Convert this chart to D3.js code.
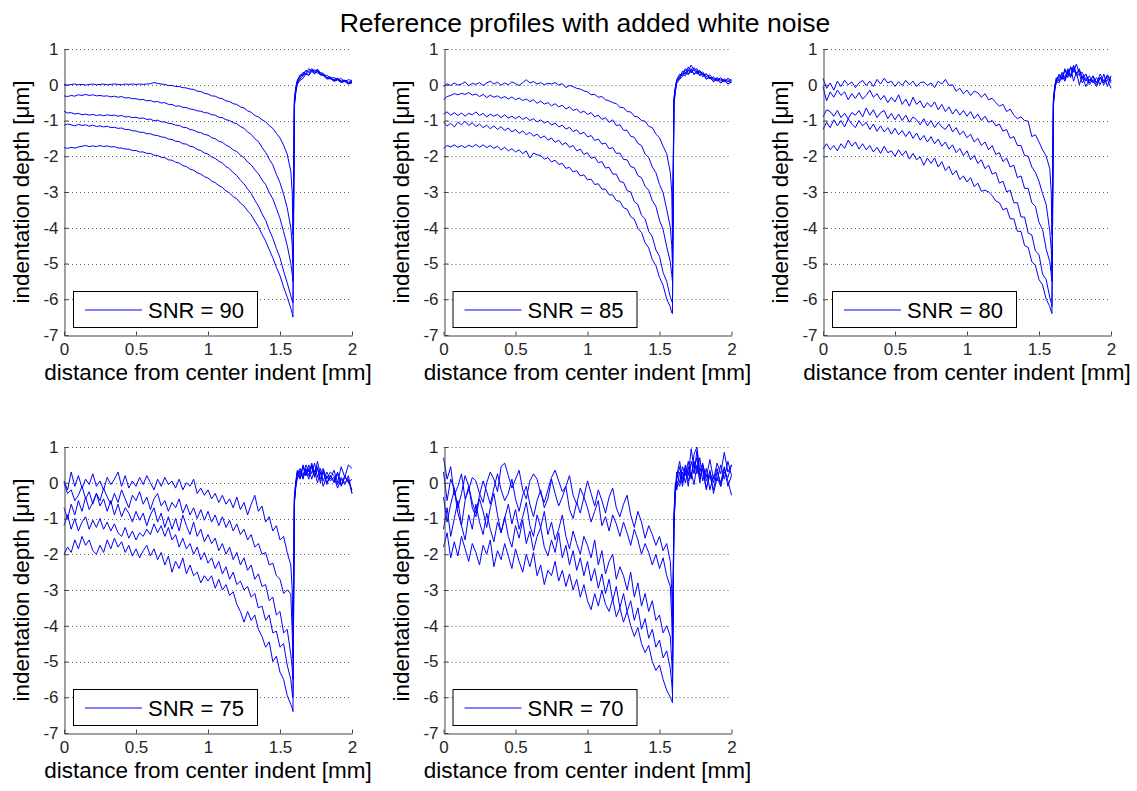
<!DOCTYPE html>
<html><head><meta charset="utf-8">
<script src="https://cdn.jsdelivr.net/npm/d3@7"></script>
<style>body{margin:0;background:#fff}svg{display:block}</style>
</head><body>
<svg id="c" width="1137" height="791"></svg>
<script>
// ---------------- DATA ----------------
const titleText = "Reference profiles with added white noise";
const xLabelText = "distance from center indent [mm]";
const yLabelText = "indentation depth [μm]";
const legendLabels = ["SNR = 90", "SNR = 85", "SNR = 80", "SNR = 75", "SNR = 70"];
const xTicks = [0, 0.5, 1, 1.5, 2];
const yTicks = [-7, -6, -5, -4, -3, -2, -1, 0, 1];
const gridValues = [1, 0, -1, -2, -3, -4, -5, -6];

// sample positions (mm), shared by every profile
const xGrid = [
0,0.025,0.05,0.075,0.1,0.125,0.15,0.175,0.2,0.225,
0.25,0.275,0.3,0.325,0.35,0.375,0.4,0.425,0.45,0.475,
0.5,0.525,0.55,0.575,0.6,0.625,0.65,0.675,0.7,0.725,
0.75,0.775,0.8,0.825,0.85,0.875,0.9,0.925,0.95,0.975,
1,1.025,1.05,1.075,1.1,1.125,1.15,1.175,1.2,1.225,
1.25,1.275,1.3,1.325,1.35,1.375,1.4,1.425,1.45,1.475,
1.5,1.525,1.55,1.575,1.585,1.59,1.6,1.61,1.62,1.64,
1.66,1.68,1.7,1.72,1.74,1.76,1.78,1.8,1.825,1.85,
1.875,1.9,1.925,1.95,1.975,2];

// SNR = 90 : five profiles (depth in µm)
const snr90 = [
[0.01,-0.01,0.01,0.02,0,0.01,-0.01,0.01,0.02,0,
 0.01,0.02,0,0.01,0.02,0.01,0,0.02,0.01,0.02,
 0.01,0.02,0.01,0.02,0.03,0.06,0.04,0.02,0.01,-0.02,
 -0.02,-0.05,-0.05,-0.08,-0.09,-0.12,-0.13,-0.18,-0.19,-0.24,
 -0.26,-0.31,-0.32,-0.37,-0.39,-0.45,-0.47,-0.53,-0.55,-0.62,
 -0.65,-0.73,-0.77,-0.86,-0.9,-0.98,-1.04,-1.14,-1.22,-1.36,
 -1.49,-1.69,-1.94,-2.42,-3.0,-4.2,-0.55,-0.15,0.06,0.22,
 0.3,0.4,0.36,0.45,0.38,0.42,0.3,0.28,0.2,0.17,
 0.14,0.18,0.1,0.12,0.05,0.08],
[-0.31,-0.33,-0.3,-0.32,-0.28,-0.3,-0.27,-0.3,-0.28,-0.31,
 -0.3,-0.32,-0.31,-0.34,-0.32,-0.35,-0.33,-0.37,-0.36,-0.39,
 -0.39,-0.42,-0.41,-0.45,-0.44,-0.48,-0.47,-0.51,-0.5,-0.55,
 -0.55,-0.6,-0.59,-0.63,-0.64,-0.68,-0.69,-0.73,-0.74,-0.78,
 -0.79,-0.84,-0.85,-0.91,-0.92,-0.98,-1.0,-1.06,-1.09,-1.17,
 -1.22,-1.32,-1.39,-1.51,-1.59,-1.75,-1.89,-2.08,-2.24,-2.51,
 -2.74,-3.06,-3.44,-4.0,-4.5,-5.0,-0.45,-0.1,0.1,0.25,
 0.35,0.3,0.45,0.38,0.42,0.32,0.35,0.25,0.27,0.18,
 0.2,0.15,0.17,0.1,0.14,0.12],
[-0.74,-0.79,-0.78,-0.82,-0.8,-0.84,-0.82,-0.85,-0.83,-0.86,
 -0.84,-0.87,-0.84,-0.86,-0.85,-0.88,-0.86,-0.9,-0.89,-0.92,
 -0.91,-0.94,-0.93,-0.97,-0.96,-1.01,-0.99,-1.04,-1.04,-1.08,
 -1.09,-1.13,-1.14,-1.19,-1.2,-1.25,-1.27,-1.32,-1.34,-1.39,
 -1.41,-1.48,-1.51,-1.58,-1.61,-1.69,-1.74,-1.82,-1.87,-1.97,
 -2.04,-2.16,-2.24,-2.38,-2.49,-2.66,-2.79,-3.01,-3.19,-3.46,
 -3.74,-4.11,-4.49,-5.0,-5.3,-5.5,-0.4,-0.05,0.12,0.28,
 0.25,0.4,0.33,0.42,0.3,0.38,0.27,0.3,0.18,0.2,
 0.1,0.15,0.08,0.11,0.04,0.07],
[-1.13,-1.1,-1.12,-1.15,-1.11,-1.14,-1.12,-1.16,-1.13,-1.17,
 -1.15,-1.18,-1.16,-1.2,-1.19,-1.22,-1.21,-1.25,-1.25,-1.29,
 -1.29,-1.33,-1.33,-1.37,-1.37,-1.41,-1.42,-1.46,-1.47,-1.52,
 -1.53,-1.58,-1.59,-1.65,-1.66,-1.72,-1.74,-1.81,-1.84,-1.91,
 -1.94,-2.02,-2.06,-2.14,-2.19,-2.29,-2.35,-2.46,-2.54,-2.67,
 -2.77,-2.92,-3.04,-3.23,-3.39,-3.61,-3.79,-4.06,-4.29,-4.58,
 -4.84,-5.21,-5.54,-5.9,-6.05,-6.1,-0.5,-0.18,0.05,0.16,
 0.26,0.32,0.28,0.4,0.35,0.44,0.34,0.32,0.2,0.22,
 0.12,0.16,0.1,0.13,0.07,0.1],
[-1.76,-1.78,-1.75,-1.77,-1.74,-1.72,-1.7,-1.73,-1.71,-1.73,
 -1.7,-1.73,-1.71,-1.74,-1.73,-1.77,-1.77,-1.8,-1.8,-1.84,
 -1.84,-1.88,-1.88,-1.92,-1.92,-1.97,-1.98,-2.03,-2.04,-2.1,
 -2.11,-2.17,-2.19,-2.26,-2.29,-2.36,-2.39,-2.46,-2.5,-2.57,
 -2.61,-2.69,-2.74,-2.82,-2.87,-2.97,-3.03,-3.13,-3.19,-3.31,
 -3.39,-3.53,-3.64,-3.81,-3.97,-4.18,-4.37,-4.61,-4.84,-5.11,
 -5.34,-5.66,-5.94,-6.25,-6.4,-6.5,-0.6,-0.22,0.02,0.12,
 0.18,0.3,0.26,0.37,0.32,0.38,0.28,0.26,0.16,0.17,
 0.1,0.13,0.06,0.09,0.02,0.05]
];

// SNR = 85
const snr85 = [
[-0.05,0.03,-0.02,0.05,-0.01,0.02,0.08,-0.03,0.04,0.01,
 0.06,-0.02,0.05,0.1,0.02,0.07,-0.01,0.05,0.0,0.08,
 0.03,-0.02,0.06,0.14,0.05,0.09,0.02,0.06,0.0,0.04,
 0.02,0.06,-0.01,0.03,-0.08,-0.02,-0.05,-0.1,-0.12,-0.17,
 -0.2,-0.28,-0.27,-0.35,-0.33,-0.42,-0.45,-0.5,-0.53,-0.63,
 -0.64,-0.75,-0.76,-0.88,-0.9,-1.0,-1.02,-1.16,-1.2,-1.38,
 -1.48,-1.72,-1.93,-2.45,-3.0,-4.2,-0.5,-0.12,0.1,0.25,
 0.32,0.45,0.38,0.55,0.4,0.45,0.32,0.36,0.22,0.28,
 0.14,0.2,0.12,0.16,0.08,0.15],
[-0.42,-0.33,-0.3,-0.25,-0.28,-0.24,-0.27,-0.22,-0.29,-0.26,
 -0.33,-0.27,-0.36,-0.29,-0.35,-0.31,-0.38,-0.33,-0.4,-0.34,
 -0.42,-0.37,-0.44,-0.4,-0.47,-0.42,-0.52,-0.46,-0.54,-0.5,
 -0.59,-0.53,-0.62,-0.57,-0.68,-0.62,-0.72,-0.68,-0.78,-0.74,
 -0.83,-0.78,-0.9,-0.85,-0.97,-0.92,-1.05,-0.98,-1.14,-1.12,
 -1.27,-1.28,-1.44,-1.47,-1.64,-1.7,-1.94,-2.03,-2.3,-2.46,
 -2.79,-3.02,-3.48,-3.98,-4.5,-5.0,-0.45,-0.1,0.12,0.2,
 0.38,0.3,0.5,0.35,0.42,0.3,0.38,0.22,0.3,0.16,
 0.22,0.12,0.2,0.1,0.18,0.12],
[-0.82,-0.76,-0.85,-0.78,-0.86,-0.79,-0.88,-0.8,-0.84,-0.76,
 -0.86,-0.8,-0.9,-0.82,-0.88,-0.83,-0.92,-0.84,-0.93,-0.88,
 -0.95,-0.88,-0.97,-0.91,-1.0,-0.95,-1.04,-0.98,-1.07,-1.02,
 -1.13,-1.07,-1.18,-1.13,-1.24,-1.19,-1.31,-1.26,-1.38,-1.33,
 -1.46,-1.42,-1.56,-1.52,-1.66,-1.63,-1.79,-1.76,-1.92,-1.91,
 -2.09,-2.1,-2.29,-2.32,-2.54,-2.6,-2.84,-2.95,-3.24,-3.4,
 -3.79,-4.05,-4.53,-4.96,-5.3,-5.5,-0.38,-0.05,0.15,0.3,
 0.26,0.42,0.3,0.45,0.28,0.4,0.25,0.33,0.15,0.22,
 0.08,0.18,0.06,0.14,0.02,0.1],
[-1.05,-1.15,-1.08,-1.18,-1.05,-1.12,-1.02,-1.14,-1.06,-1.17,
 -1.1,-1.2,-1.13,-1.23,-1.15,-1.25,-1.17,-1.28,-1.21,-1.32,
 -1.25,-1.36,-1.29,-1.4,-1.33,-1.44,-1.38,-1.49,-1.43,-1.55,
 -1.49,-1.61,-1.55,-1.68,-1.62,-1.75,-1.7,-1.85,-1.8,-1.95,
 -1.9,-2.06,-2.02,-2.18,-2.15,-2.33,-2.31,-2.5,-2.5,-2.71,
 -2.73,-2.96,-3.0,-3.27,-3.35,-3.65,-3.75,-4.1,-4.25,-4.62,
 -4.8,-5.25,-5.5,-5.94,-6.05,-6.1,-0.52,-0.15,0.08,0.18,
 0.3,0.25,0.42,0.33,0.48,0.36,0.4,0.28,0.3,0.2,
 0.18,0.1,0.16,0.08,0.14,0.06],
[-1.78,-1.7,-1.74,-1.68,-1.75,-1.7,-1.76,-1.69,-1.74,-1.67,
 -1.75,-1.68,-1.76,-1.7,-1.78,-1.72,-1.82,-1.75,-1.85,-1.79,
 -1.88,-1.82,-1.93,-1.85,-2.05,-1.91,-1.96,-1.98,-2.08,-2.04,
 -2.16,-2.11,-2.23,-2.2,-2.34,-2.31,-2.44,-2.4,-2.55,-2.52,
 -2.66,-2.64,-2.79,-2.77,-2.92,-2.92,-3.08,-3.08,-3.24,-3.26,
 -3.44,-3.48,-3.69,-3.76,-4.02,-4.13,-4.42,-4.56,-4.89,-5.06,
 -5.39,-5.61,-5.99,-6.21,-6.38,-6.4,-0.6,-0.2,0.05,0.15,
 0.24,0.35,0.28,0.4,0.3,0.36,0.26,0.3,0.18,0.2,
 0.1,0.15,0.05,0.12,0.02,0.08]
];

// SNR = 80
const snr80 = [
[0.18,-0.1,0.05,-0.15,0.1,-0.05,0.12,0.0,0.08,-0.08,
 0.05,0.12,-0.02,0.1,-0.05,0.15,0.02,0.18,0.05,0.1,
 -0.05,0.08,-0.02,0.12,0.0,0.1,-0.05,0.06,0.08,-0.02,
 0.05,-0.08,0.1,0.02,0.15,-0.02,0.0,-0.18,-0.1,-0.25,
 -0.15,-0.3,-0.18,-0.22,-0.35,-0.25,-0.42,-0.38,-0.5,-0.6,
 -0.55,-0.75,-0.68,-0.85,-0.95,-0.9,-1.0,-1.02,-1.45,-1.4,
 -1.6,-1.82,-2.0,-2.35,-3.0,-4.2,-0.5,-0.1,0.15,0.25,
 0.15,0.4,0.28,0.5,0.35,0.58,0.3,0.35,0.1,0.25,
 0.05,0.2,0.0,0.3,-0.05,0.25],
[-0.05,-0.45,-0.2,-0.35,-0.15,-0.3,-0.2,-0.42,-0.25,-0.38,
 -0.22,-0.4,-0.3,-0.15,-0.35,-0.25,-0.42,-0.3,-0.5,-0.35,
 -0.48,-0.28,-0.55,-0.4,-0.6,-0.35,-0.55,-0.45,-0.65,-0.5,
 -0.62,-0.48,-0.7,-0.55,-0.75,-0.62,-0.82,-0.68,-0.85,-0.72,
 -0.88,-0.75,-0.95,-0.82,-1.0,-0.88,-1.05,-1.0,-1.15,-1.1,
 -1.3,-1.25,-1.5,-1.45,-1.7,-1.7,-1.98,-2.0,-2.3,-2.45,
 -2.7,-3.05,-3.35,-4.1,-4.6,-5.2,-0.45,-0.05,0.2,0.1,
 0.35,0.2,0.45,0.25,0.5,0.3,0.4,0.15,0.3,0.05,
 0.25,0.05,0.2,0.1,0.28,0.12],
[-0.9,-0.7,-0.75,-0.88,-0.72,-0.92,-0.8,-0.95,-0.78,-0.85,
 -0.72,-0.9,-0.65,-0.85,-0.7,-0.92,-0.78,-0.72,-0.95,-0.8,
 -0.98,-0.82,-1.0,-0.85,-1.05,-0.9,-0.98,-1.12,-0.95,-1.15,
 -1.0,-1.2,-1.05,-1.18,-1.25,-1.1,-1.32,-1.2,-1.4,-1.3,
 -1.48,-1.38,-1.6,-1.5,-1.7,-1.6,-1.82,-1.7,-1.95,-1.9,
 -2.15,-2.05,-2.3,-2.25,-2.6,-2.55,-2.9,-2.9,-3.3,-3.4,
 -3.85,-4.05,-4.6,-4.95,-5.3,-5.5,-0.4,0.0,0.1,0.3,
 0.15,0.45,0.2,0.5,0.1,0.35,0.0,0.25,-0.05,0.15,
 0.1,-0.05,0.2,0.0,0.15,-0.1],
[-1.25,-1.05,-1.2,-0.98,-1.15,-1.0,-1.18,-0.95,-1.1,-1.2,
 -1.0,-1.15,-1.05,-1.25,-1.1,-1.3,-1.15,-1.32,-1.2,-1.38,
 -1.22,-1.4,-1.28,-1.45,-1.3,-1.5,-1.35,-1.55,-1.42,-1.6,
 -1.45,-1.65,-1.52,-1.72,-1.6,-1.8,-1.68,-1.9,-1.78,-1.98,
 -1.85,-2.1,-1.98,-2.2,-2.1,-2.35,-2.25,-2.5,-2.45,-2.75,
 -2.7,-3.0,-2.95,-3.3,-3.3,-3.7,-3.7,-4.15,-4.2,-4.65,
 -4.75,-5.3,-5.45,-5.95,-6.1,-6.2,-0.5,-0.1,0.05,0.2,
 0.3,0.15,0.4,0.25,0.55,0.3,0.45,0.2,0.3,0.1,
 0.22,0.05,0.3,0.1,0.2,0.05],
[-1.8,-1.65,-1.82,-1.7,-1.85,-1.65,-1.78,-1.55,-1.72,-1.6,
 -1.8,-1.65,-1.82,-1.7,-1.88,-1.75,-1.92,-1.72,-1.9,-1.85,
 -2.0,-1.82,-1.98,-1.85,-2.08,-1.92,-2.1,-2.02,-2.25,-2.05,
 -2.2,-2.05,-2.3,-2.15,-2.4,-2.28,-2.52,-2.4,-2.65,-2.55,
 -2.72,-2.6,-2.85,-2.75,-2.98,-2.95,-3.0,-3.1,-3.25,-3.3,
 -3.5,-3.45,-3.75,-3.75,-4.1,-4.1,-4.5,-4.55,-4.95,-5.05,
 -5.45,-5.6,-6.0,-6.2,-6.35,-6.4,-0.6,-0.15,0.1,0.05,
 0.25,0.1,0.35,0.2,0.45,0.25,0.3,0.05,0.2,0.0,
 0.15,0.0,0.2,0.05,0.25,0.1]
];

// SNR = 75
const snr75 = [
[0.05,-0.2,0.3,-0.1,0.2,-0.15,0.1,-0.05,0.25,-0.1,
 0.05,-0.2,0.15,-0.05,0.1,0.3,-0.1,0.2,-0.15,0.05,
 -0.1,0.15,-0.05,0.2,0.0,-0.2,0.1,-0.1,0.15,-0.05,
 0.05,-0.15,0.1,-0.2,0.0,-0.1,0.1,-0.3,-0.15,-0.35,
 -0.2,-0.45,-0.3,-0.55,-0.35,-0.6,-0.45,-0.7,-0.4,-0.75,
 -0.55,-0.9,-0.6,-0.35,-0.8,-0.65,-1.1,-0.95,-1.35,-1.2,
 -1.6,-1.5,-1.95,-2.3,-3.0,-4.2,-0.4,0.0,0.3,0.1,
 0.45,0.2,0.5,0.25,0.55,0.15,0.4,0.05,0.3,0.1,
 0.35,0.0,0.45,0.15,0.5,0.4],
[0.0,-0.3,-0.2,-0.5,-0.35,-0.1,-0.45,-0.25,-0.6,-0.3,
 -0.5,-0.15,-0.4,-0.6,-0.3,-0.55,-0.2,-0.45,-0.7,-0.35,
 -0.5,-0.25,-0.6,-0.4,-0.75,-0.45,-0.3,-0.65,-0.5,-0.8,
 -0.55,-0.7,-0.45,-0.85,-0.6,-0.9,-0.7,-1.0,-0.75,-1.05,
 -0.8,-1.1,-0.9,-1.2,-0.95,-1.25,-1.05,-1.35,-1.15,-1.45,
 -1.3,-1.6,-1.45,-1.8,-1.7,-2.0,-1.95,-2.3,-2.25,-2.6,
 -2.7,-3.1,-3.0,-3.1,-4.2,-4.9,-0.5,-0.1,0.2,0.35,
 0.1,0.4,0.2,0.55,0.3,0.45,0.0,0.35,-0.05,0.2,
 0.0,0.25,-0.1,0.15,0.05,-0.2],
[-0.7,-1.0,-0.6,-0.9,-0.5,-0.8,-0.4,-0.75,-0.55,-0.3,
 -0.65,-0.45,-0.8,-0.5,-0.9,-0.6,-0.95,-0.7,-0.85,-1.1,
 -0.8,-1.05,-0.85,-1.2,-0.9,-0.7,-1.1,-0.85,-1.25,-0.95,
 -1.3,-1.0,-1.35,-0.9,-1.2,-1.45,-1.1,-1.5,-1.3,-1.65,
 -1.45,-1.7,-1.55,-1.9,-1.7,-2.0,-1.8,-2.15,-1.95,-2.3,
 -2.1,-2.45,-2.3,-2.7,-2.55,-2.9,-2.85,-3.3,-3.2,-3.7,
 -3.6,-4.2,-4.1,-4.8,-5.2,-5.5,-0.35,0.05,0.35,0.15,
 0.5,0.2,0.4,0.1,0.35,0.0,0.3,-0.1,0.2,0.05,
 0.15,-0.15,0.1,-0.05,0.2,-0.3],
[-1.2,-0.9,-1.3,-1.0,-1.35,-1.1,-0.95,-1.3,-1.05,-1.25,
 -1.0,-1.3,-1.1,-1.35,-1.15,-1.4,-1.5,-1.25,-1.55,-1.35,
 -1.6,-1.4,-1.5,-1.3,-1.45,-1.15,-1.4,-1.2,-1.5,-1.25,
 -1.6,-1.45,-1.8,-1.55,-1.85,-1.7,-2.0,-1.8,-2.15,-1.95,
 -2.25,-2.1,-2.4,-2.2,-2.55,-2.35,-2.7,-2.5,-2.85,-2.75,
 -3.0,-2.9,-3.2,-3.1,-3.5,-3.45,-3.85,-3.7,-4.2,-4.15,
 -4.6,-4.5,-5.1,-5.5,-5.9,-6.0,-0.5,-0.05,0.25,0.4,
 0.2,0.5,0.3,0.45,0.15,0.4,0.1,0.3,0.0,0.2,
 0.05,0.3,-0.05,0.2,0.0,0.1],
[-2.0,-1.8,-1.95,-1.6,-1.85,-1.5,-1.75,-1.6,-1.9,-2.0,
 -1.75,-1.95,-1.6,-1.85,-1.55,-1.8,-1.65,-1.95,-1.75,-2.05,
 -1.85,-2.1,-1.9,-1.75,-2.05,-1.85,-2.15,-1.95,-2.3,-2.05,
 -2.5,-2.2,-2.4,-2.1,-2.55,-2.3,-2.6,-2.5,-2.8,-2.6,
 -2.75,-2.6,-2.95,-2.7,-3.0,-2.85,-3.15,-3.05,-3.4,-3.6,
 -3.9,-3.6,-3.85,-3.7,-4.1,-4.3,-4.6,-4.45,-5.0,-4.85,
 -5.3,-5.5,-5.95,-6.2,-6.3,-6.4,-0.6,-0.1,0.1,0.3,
 0.15,0.35,0.1,0.5,0.2,0.6,0.25,0.4,0.1,0.3,
 0.2,-0.05,0.15,0.0,0.1,-0.3]
];

// SNR = 70
const snr70 = [
[0.7,0.1,0.45,-0.35,-0.1,0.25,-0.45,-0.2,0.15,0.05,
 -0.3,-0.55,0.0,0.3,0.1,-0.25,0.45,0.55,0.2,-0.15,
 0.1,0.35,-0.2,-0.45,0.05,0.25,0.1,-0.3,-0.55,-0.2,
 0.15,0.35,0.05,-0.25,-0.1,0.2,-0.35,-0.6,-0.15,-0.4,
 0.05,-0.3,-0.65,-0.2,-0.5,-0.85,-0.4,-0.15,-0.7,-0.95,
 -0.6,-0.35,-0.9,-1.25,-0.8,-1.1,-1.55,-1.2,-1.45,-1.75,
 -1.5,-1.9,-1.7,-2.2,-3.0,-4.0,-1.2,-0.3,0.2,0.6,
 0.1,0.5,0.2,0.95,0.4,0.7,0.0,0.5,0.15,0.65,
 0.1,0.55,0.25,0.85,0.3,0.5],
[0.3,-0.5,0.1,-0.15,-0.7,-0.3,0.2,-0.1,-0.55,-0.85,
 -0.35,0.05,-0.25,-0.6,-0.15,0.25,-0.2,-0.5,-0.3,0.1,
 -0.45,-0.8,-0.35,-0.1,-0.6,-0.95,-0.5,-0.2,-0.7,-0.45,
 0.1,-0.3,-0.65,-0.4,-0.1,-0.75,-1.0,-0.55,-0.85,-0.4,
 -0.7,-1.1,-0.8,-0.5,-1.2,-0.95,-1.35,-0.9,-1.15,-1.5,
 -1.1,-1.4,-1.75,-1.3,-1.6,-2.0,-1.7,-1.95,-2.3,-2.0,
 -2.4,-2.1,-2.6,-2.9,-3.8,-4.6,-1.0,-0.15,0.3,0.0,
 0.45,0.2,0.6,0.1,0.8,1.0,0.3,0.55,0.05,0.3,
 0.0,0.4,-0.1,0.3,0.15,0.5],
[-0.4,-1.1,-0.6,-0.2,-0.85,-1.2,-0.5,-0.1,-0.7,-0.95,
 -0.45,-0.8,-1.25,-0.7,-0.3,-0.9,-1.4,-1.0,-0.6,-1.15,
 -0.75,-1.3,-0.95,-0.55,-1.2,-1.5,-0.9,-1.25,-0.8,-1.45,
 -1.1,-1.6,-1.3,-0.9,-1.5,-1.85,-1.35,-1.7,-2.0,-1.5,
 -1.75,-2.1,-1.6,-2.3,-1.9,-2.55,-2.2,-2.0,-2.7,-2.35,
 -2.6,-3.0,-2.5,-3.2,-2.8,-3.45,-3.1,-3.6,-3.3,-3.85,
 -3.7,-4.2,-4.0,-4.3,-5.0,-5.4,-1.3,-0.2,0.1,0.45,
 0.0,0.35,-0.1,0.6,0.25,0.9,0.2,0.4,-0.15,0.2,
 -0.2,0.3,0.0,0.45,-0.1,0.2],
[-1.3,-0.7,-1.5,-1.0,-0.5,-1.2,-1.6,-0.9,-1.3,-0.6,
 -1.1,-1.45,-0.85,-1.3,-1.65,-1.1,-1.4,-0.95,-1.5,-1.8,
 -1.2,-1.55,-1.05,-1.7,-1.35,-1.9,-1.5,-1.25,-1.8,-2.05,
 -1.6,-1.95,-1.4,-2.1,-1.75,-2.3,-1.9,-2.45,-2.1,-2.6,
 -2.2,-2.75,-2.4,-2.95,-2.55,-3.1,-2.7,-3.3,-2.9,-3.5,
 -3.1,-3.6,-3.3,-3.85,-3.5,-4.1,-3.8,-4.35,-4.1,-4.6,
 -4.4,-4.9,-4.7,-5.2,-5.6,-5.9,-0.9,0.0,-0.2,0.3,
 -0.1,0.45,0.05,0.3,-0.05,0.5,0.1,0.4,-0.2,0.35,
 -0.3,0.15,-0.1,0.4,0.05,-0.35],
[-1.8,-1.4,-2.1,-1.65,-2.05,-1.5,-1.85,-2.2,-1.7,-1.95,
 -2.3,-1.75,-2.0,-1.6,-2.35,-1.9,-2.15,-1.7,-2.05,-2.4,
 -1.85,-2.2,-2.5,-2.0,-2.35,-1.95,-2.6,-2.3,-2.85,-2.45,
 -2.6,-2.2,-2.75,-2.45,-2.9,-2.55,-3.0,-2.7,-3.2,-2.85,
 -3.3,-3.55,-3.1,-3.45,-3.0,-3.4,-3.6,-3.25,-3.75,-3.5,
 -3.9,-3.6,-4.0,-4.3,-4.05,-4.5,-4.75,-4.55,-5.0,-5.25,
 -5.1,-5.5,-5.8,-6.0,-6.1,-6.15,-1.1,-0.3,0.05,-0.1,
 0.3,0.0,0.45,0.15,0.6,0.25,0.7,0.05,0.4,-0.2,
 0.2,0.05,0.5,0.1,0.6,0.2]
];

const panelData = [snr90, snr85, snr80, snr75, snr70];

// ---------------- LAYOUT ----------------
const FONT = "'Liberation Sans', Arial, Helvetica, sans-serif";
const W = 288, H = 286;
const lefts = [64, 443.5, 823, 64, 443.5];
const tops = [49, 49, 49, 447, 447];

const svg = d3.select("#c");

svg.append("text")
  .attr("x", 585).attr("y", 32)
  .attr("text-anchor", "middle")
  .attr("font-family", FONT).attr("font-size", 26.5)
  .attr("fill", "#000")
  .text(titleText);

panelData.forEach((curves, pi) => {
  const L = lefts[pi], T = tops[pi];
  const x = d3.scaleLinear().domain([0, 2]).range([L, L + W]);
  const y = d3.scaleLinear().domain([-7, 1]).range([T + H, T]);
  const g = svg.append("g");

  // dotted horizontal grid
  g.selectAll("line.grid").data(gridValues).join("line")
    .attr("class", "grid")
    .attr("x1", x(0)).attr("x2", x(2))
    .attr("y1", d => Math.round(y(d)) + 0.5).attr("y2", d => Math.round(y(d)) + 0.5)
    .attr("stroke", "#606060").attr("stroke-width", 1)
    .attr("stroke-dasharray", "1,3");

  // profiles
  const line = d3.line().x((d, i) => x(xGrid[i])).y(d => y(d));
  g.selectAll("path.prof").data(curves).join("path")
    .attr("class", "prof")
    .attr("d", line)
    .attr("fill", "none")
    .attr("stroke", "#0000ff")
    .attr("stroke-width", 1)
    .attr("stroke-linejoin", "round");

  // axes
  const ax = g.append("g")
    .attr("transform", `translate(0,${Math.round(y(-7)) + 0.5})`)
    .call(d3.axisBottom(x).tickValues(xTicks).tickSizeInner(-4).tickSizeOuter(0)
      .tickPadding(7).tickFormat(d => String(d)));
  const ay = g.append("g")
    .attr("transform", `translate(${Math.round(x(0)) + 0.5},0)`)
    .call(d3.axisLeft(y).tickValues(yTicks).tickSizeInner(-4).tickSizeOuter(0)
      .tickPadding(6).tickFormat(d => String(d)));
  [ax, ay].forEach(a => {
    a.select(".domain").attr("stroke", "#444");
    a.selectAll(".tick line").attr("stroke", "#444");
    a.selectAll(".tick text").attr("fill", "#262626")
      .attr("font-family", FONT).attr("font-size", 17);
  });

  // axis labels
  g.append("text")
    .attr("x", x(1)).attr("y", y(-7) + 45)
    .attr("text-anchor", "middle")
    .attr("font-family", FONT).attr("font-size", 22.5).attr("fill", "#000")
    .text(xLabelText);
  g.append("text")
    .attr("transform", `translate(${x(0) - 35},${(y(1) + y(-7)) / 2}) rotate(-90)`)
    .attr("text-anchor", "middle")
    .attr("font-family", FONT).attr("font-size", 22.5).attr("fill", "#000")
    .text(yLabelText);

  // legend
  const lg = g.append("g");
  lg.append("rect")
    .attr("x", L + 9.5).attr("y", T + H - 43.5)
    .attr("width", 184).attr("height", 36)
    .attr("fill", "#fff").attr("stroke", "#000").attr("stroke-width", 1);
  lg.append("line")
    .attr("x1", L + 21).attr("x2", L + 78)
    .attr("y1", T + H - 25).attr("y2", T + H - 25)
    .attr("stroke", "#0000ff").attr("stroke-width", 1);
  lg.append("text")
    .attr("x", L + 84).attr("y", T + H - 17)
    .attr("font-family", FONT).attr("font-size", 22).attr("fill", "#000")
    .text(legendLabels[pi]);
});
</script>
</body></html>
